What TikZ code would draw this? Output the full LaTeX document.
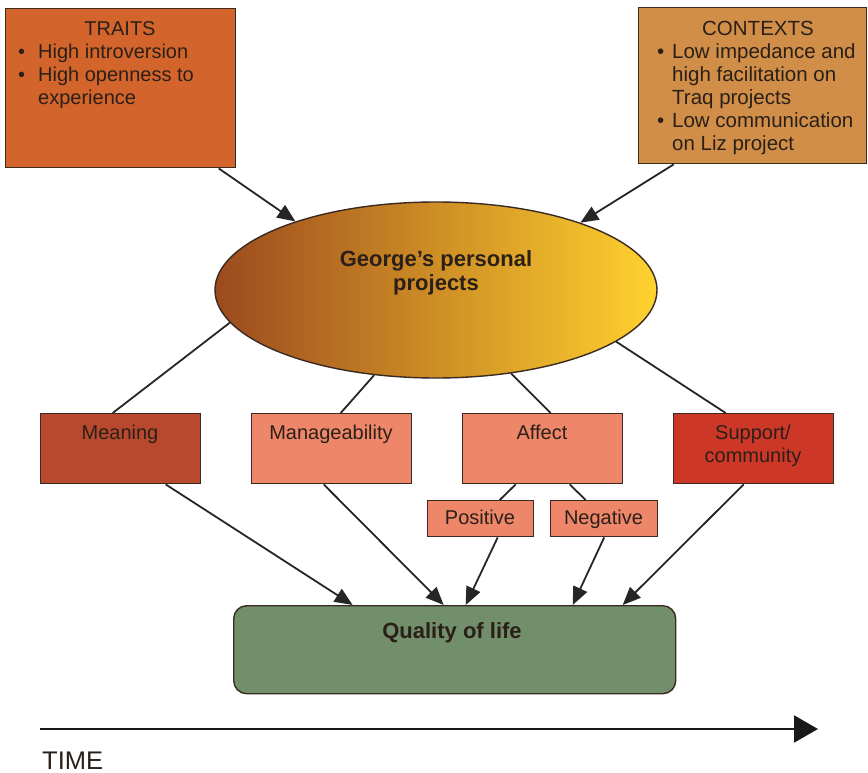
\documentclass[tikz,border=0pt]{standalone}
\usepackage{fontspec}
\setmainfont{Liberation Sans}
\usetikzlibrary{shapes.geometric,arrows.meta,calc}
\definecolor{bordc}{HTML}{3A2A22}
\definecolor{txtc}{HTML}{2B2018}
\definecolor{traitsc}{HTML}{D2642C}
\definecolor{ctxc}{HTML}{D08E48}
\definecolor{meanc}{HTML}{B8482E}
\definecolor{salmc}{HTML}{EE866A}
\definecolor{suppc}{HTML}{CD3728}
\definecolor{qolc}{HTML}{708F6A}
\definecolor{ellL}{HTML}{9C4A1E}
\definecolor{ellM}{HTML}{DCA02E}
\definecolor{ellR}{HTML}{FFD22E}
\tikzset{
  box/.style={draw=bordc, line width=1.4pt, inner sep=0pt, anchor=north west},
  txt/.style={text=txtc, inner sep=0pt, font=\fontsize{20}{23}\selectfont},
  ctxt/.style={text=txtc, inner sep=0pt, font=\fontsize{20.5}{23}\selectfont},
  btxt/.style={text=txtc, inner sep=0pt, font=\fontsize{22}{24}\selectfont\bfseries},
  conn/.style={draw=black!85, line width=1.8pt},
  arr/.style={conn, -{Triangle[length=18pt,width=15pt]}}
}
\begin{document}
\begin{tikzpicture}[x=1pt,y=-1pt]
\useasboundingbox (0,0) rectangle (868,773);
% top boxes
\node[box, fill=traitsc, minimum width=230pt, minimum height=159pt] (traits) at (5,8) {};
\node[txt, anchor=base] (traitsT) at (120,36) {TRAITS};
\node[txt, anchor=base west] (traitsL) at (18,59) {\begin{tabular}[t]{@{}p{20pt}@{}l@{}}\textbullet & High introversion\\ \textbullet & High openness to\\ & experience\end{tabular}};
\node[box, fill=ctxc, minimum width=228pt, minimum height=156pt] (ctx) at (638,7) {};
\node[ctxt, anchor=base] (ctxT) at (758,36) {CONTEXTS};
\node[ctxt, anchor=base west] (ctxL) at (657,59) {\begin{tabular}[t]{@{}p{15pt}@{}l@{}}\textbullet & Low impedance and\\ & high facilitation on\\ & Traq projects\\ \textbullet & Low communication\\ & on Liz project\end{tabular}};
% ellipse
\node[ellipse, draw=bordc, line width=1.4pt, minimum width=442pt, minimum height=176pt, inner sep=0pt,
  left color=ellL, middle color=ellM, right color=ellR] (ell) at (436,290) {};
\node[btxt, anchor=base] (ellT) at (436,266) {\begin{tabular}[t]{@{}c@{}}George’s personal\\[0pt] projects\end{tabular}};
% middle boxes
\node[box, fill=meanc, minimum width=160pt, minimum height=70pt] (mean) at (40,413) {};
\node[txt, anchor=base] (meanT) at (120,439) {Meaning};
\node[box, fill=salmc, minimum width=160pt, minimum height=70pt] (man) at (251,413) {};
\node[txt, anchor=base] (manT) at (331,439) {Manageability};
\node[box, fill=salmc, minimum width=160pt, minimum height=70pt] (aff) at (462,413) {};
\node[txt, anchor=base] (affT) at (542,439) {Affect};
\node[box, fill=suppc, minimum width=160pt, minimum height=70pt] (supp) at (673,413) {};
\node[txt, anchor=base] (suppT) at (753,439) {\begin{tabular}[t]{@{}c@{}}Support/\\ community\end{tabular}};
\node[box, fill=salmc, minimum width=106pt, minimum height=36pt] (pos) at (427,500) {};
\node[txt, anchor=base] (posT) at (480,524) {Positive};
\node[box, fill=salmc, minimum width=107pt, minimum height=36pt] (neg) at (550,500) {};
\node[txt, anchor=base] (negT) at (603.5,524) {Negative};
% quality of life
\node[box, fill=qolc, rounded corners=13pt, minimum width=442pt, minimum height=88pt] (qol) at (233,605) {};
\node[btxt, anchor=base] (qolT) at (452,638) {Quality of life};
% arrows into ellipse
\draw[arr] ($(traits.south)+(98,0)$) -- (ell.154.4);
\draw[arr] ($(ctx.south)+(-79,0)$) -- (ell.25.5);
% lines ellipse -> boxes
\draw[conn] (ell.189.2) -- ($(mean.north)+(-8,0)$);
\draw[conn] (ell.234.5) -- ($(man.north)+(9,0)$);
\draw[conn] (ell.312.6) -- ($(aff.north)+(8,0)$);
\draw[conn] (ell.344.4) -- ($(supp.north)+(-28,0)$);
% affect -> positive/negative
\draw[conn] ($(aff.south)+(-27,0)$) -- ($(pos.north)+(19,0)$);
\draw[conn] ($(aff.south)+(27,0)$) -- ($(neg.north)+(-18.5,0)$);
% arrows to quality of life
\draw[arr] ($(mean.south)+(45,0)$) -- ($(qol.north)+(-102,0)$);
\draw[arr] ($(man.south)+(-8,0)$) -- ($(qol.north)+(-11,0)$);
\draw[arr] ($(pos.south)+(17,0)$) -- ($(qol.north)+(11,0)$);
\draw[arr] ($(neg.south)+(0,0)$) -- ($(qol.north)+(118,0)$);
\draw[arr] ($(supp.south)+(-10,0)$) -- ($(qol.north)+(168,0)$);
% time
\coordinate (ts) at (40,729);
\coordinate (te) at (818,729);
\draw[draw=black!90, line width=2.2pt, -{Triangle[length=24pt,width=27pt]}] (ts) -- (te);
\node[anchor=base west, inner sep=0pt, text=txtc, font=\fontsize{25.5}{27}\selectfont] (time) at (42,769) {TIME};
\end{tikzpicture}
\end{document}
